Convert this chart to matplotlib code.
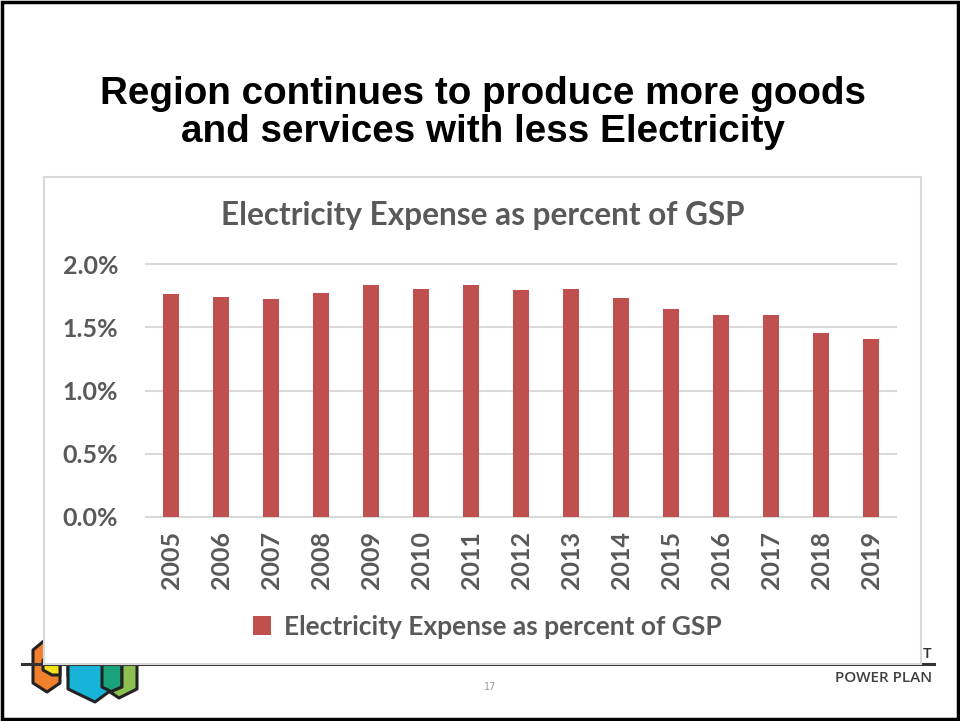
import numpy as np
import matplotlib
matplotlib.use("Agg")
from matplotlib import pyplot as plt
from matplotlib.patches import Rectangle, Polygon

# data
years = ["2005", "2006", "2007", "2008", "2009", "2010", "2011", "2012",
         "2013", "2014", "2015", "2016", "2017", "2018", "2019"]
expense_pct = [1.765, 1.739, 1.721, 1.773, 1.834, 1.801, 1.834, 1.792,
               1.801, 1.729, 1.642, 1.594, 1.594, 1.457, 1.405]
yticks = [0.0, 0.5, 1.0, 1.5, 2.0]
ytick_labels = ["0.0%", "0.5%", "1.0%", "1.5%", "2.0%"]

bar_color = "#c0504d"
text_gray = "#595959"
grid_gray = "#d9d9d9"

W, H = 960, 721
fig = plt.figure(figsize=(W / 100, H / 100), dpi=100)
fig.patch.set_facecolor("white")

# background axes in pixel coords for the slide furniture
bg = fig.add_axes([0, 0, 1, 1], zorder=0)
bg.set_xlim(0, W)
bg.set_ylim(H, 0)
bg.axis("off")

# logo hexagons (partly hidden by the chart panel)
logo = [
    ("#f07f2e", [(33, 650), (45, 640), (60, 650), (60, 683), (47, 692), (33, 683)]),
    ("#f5e11b", [(43, 660), (60, 660), (60, 675), (52, 675), (43, 670)]),
    ("#e63a46", [(68, 660), (92, 660), (92, 673), (78, 680), (68, 676)]),
    ("#17b3d8", [(68, 660), (110, 660), (110, 691), (95, 702), (68, 689)]),
    ("#19a37a", [(102, 660), (122, 660), (122, 687), (112, 692), (102, 687)]),
    ("#8cc152", [(122, 660), (137, 660), (137, 689), (119, 698), (110, 692), (122, 687)]),
]
for col, pts in logo:
    bg.add_patch(Polygon(pts, closed=True, facecolor=col, edgecolor="#222222",
                         lw=2.2, joinstyle="round", zorder=2))

bg.plot([22, 934], [664, 664], color="#333333", lw=2.2, zorder=3)
bg.text(931, 658, "T", ha="right", va="baseline", fontsize=11,
        family="Open Sans", fontweight="semibold", color="#333333", zorder=3)
bg.text(932, 678, "POWER PLAN", ha="right", va="center", fontsize=11,
        family="Open Sans", fontweight="semibold", color="#404040", zorder=3)
bg.text(490, 687, "17", ha="center", va="center", fontsize=7,
        color="#9a9a9a", zorder=3)

# slide title
bg.text(483, 113, "Region continues to produce more goods\nand services with less Electricity",
        ha="center", va="center", fontsize=27.8, fontweight="bold",
        family="Liberation Sans", color="black", linespacing=1.08, zorder=3)

# chart panel
bg.add_patch(Rectangle((44, 177), 877, 487, facecolor="white",
                       edgecolor=grid_gray, lw=1.5, zorder=5))
bg.text(483, 215, "Electricity Expense as percent of GSP", ha="center",
        va="center", family="Lato", fontweight="bold", fontsize=22.7,
        color=text_gray, zorder=6)

# slide border
bg.add_patch(Rectangle((2, 2), W - 4, H - 4, facecolor="none",
                       edgecolor="black", lw=2.5, zorder=6))

# the chart
ax = fig.add_axes([146 / W, 1 - 517 / H, 750 / W, 253 / H], zorder=2)
ax.set_facecolor("none")
x = np.arange(len(years))
ax.bar(x, expense_pct, width=0.31, color=bar_color, zorder=3,
       label="Electricity Expense as percent of GSP")
ax.set_xlim(-0.5, len(years) - 0.5)
ax.set_ylim(0, 2.0)
ax.set_yticks(yticks)
ax.set_yticklabels(ytick_labels)
ax.set_xticks(x)
ax.set_xticklabels(years, rotation=90)
for lab in ax.get_xticklabels() + ax.get_yticklabels():
    lab.set_family("Lato")
    lab.set_fontweight("bold")
    lab.set_fontsize(18)
    lab.set_color(text_gray)
ax.tick_params(length=0)
ax.tick_params(axis="y", pad=20)
ax.tick_params(axis="x", pad=10)
ax.grid(axis="y", color=grid_gray, lw=1.5, zorder=0)
for gl in ax.get_ygridlines():
    gl.set_clip_on(False)
for s in ax.spines.values():
    s.set_visible(False)

leg = ax.legend(loc="upper center", bbox_to_anchor=(0.455, -0.335), frameon=False,
                handlelength=0.7, handleheight=0.7, handletextpad=0.5,
                borderpad=0, prop={"family": "Lato", "weight": "bold", "size": 19})
for t in leg.get_texts():
    t.set_color(text_gray)

fig.savefig("out.png", dpi=100)
